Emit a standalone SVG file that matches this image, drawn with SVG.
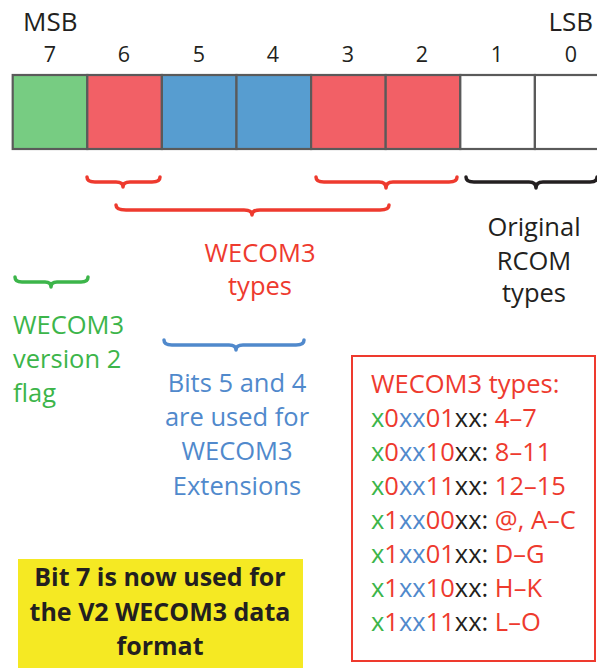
<svg xmlns="http://www.w3.org/2000/svg" width="597" height="668" viewBox="0 0 597 668">
<style>
text{font-family:"Open Sans","Noto Sans",sans-serif;font-size:25.5px}
.k{fill:#231f20}.r{fill:#ee3a2e}.g{fill:#3cb54a}.b{fill:#5089cc}
.c{text-anchor:middle}
.n{font-size:21.5px}
.h{font-size:26px}
.cell{stroke:#5a5a5a;stroke-width:2.2}
.br{fill:none;stroke-width:3.5;stroke-linecap:round;stroke-linejoin:round}
.bold{font-weight:bold;font-size:25px}
</style>
<rect width="597" height="668" fill="#fff"/>
<g id="header">
<text x="23" y="31" class="k h">MSB</text>
<text x="593" y="31" class="k h" text-anchor="end">LSB</text>
<text x="50" y="62" class="k c n">7</text>
<text x="124" y="62" class="k c n">6</text>
<text x="199" y="62" class="k c n">5</text>
<text x="273" y="62" class="k c n">4</text>
<text x="348" y="62" class="k c n">3</text>
<text x="422" y="62" class="k c n">2</text>
<text x="497" y="62" class="k c n">1</text>
<text x="571" y="62" class="k c n">0</text>
</g>
<g id="bits">
<rect class="cell" x="12.7" y="75" width="74.6" height="74" fill="#77cc82"/>
<rect class="cell" x="87.3" y="75" width="74.6" height="74" fill="#f26066"/>
<rect class="cell" x="161.9" y="75" width="74.6" height="74" fill="#579dd0"/>
<rect class="cell" x="236.5" y="75" width="74.6" height="74" fill="#579dd0"/>
<rect class="cell" x="311.1" y="75" width="74.6" height="74" fill="#f26066"/>
<rect class="cell" x="385.7" y="75" width="74.6" height="74" fill="#f26066"/>
<rect class="cell" x="460.3" y="75" width="74.6" height="74" fill="#fff"/>
<rect class="cell" x="534.9" y="75" width="74.6" height="74" fill="#fff"/>
</g>
<g id="connectors">
<path class="br" stroke="#ee3a2e" d="M87,177 Q87,182 95,182 L116,182 Q123,182 123,187 Q123,182 130,182 L152,182 Q160,182 160,177"/>
<path class="br" stroke="#ee3a2e" d="M316,177 Q316,182 324,182 L379,182 Q386,182 386,188 Q386,182 393,182 L449,182 Q457,182 457,177"/>
<path class="br" stroke="#231f20" d="M466,177 Q466,182 474,182 L529,182 Q536,182 536,188 Q536,182 543,182 L590,182 Q597,182 597,177"/>
<path class="br" stroke="#ee3a2e" d="M116,205 Q116,210 126,210 L244,210 Q252,210 252,215 Q252,210 260,210 L380,210 Q389,210 389,205"/>
<path class="br" stroke="#3cb54a" d="M15,277 Q15,282 22,282 L45,282 Q51,282 51,287 Q51,282 57,282 L81,282 Q88,282 88,277"/>
<path class="br" stroke="#5089cc" d="M164,340 Q164,345 172,345 L229,345 Q236,345 236,350 Q236,345 243,345 L296,345 Q304,345 304,340"/>
</g>
<g id="label-wecom3-types">
<text x="260" y="262" class="r c">WECOM3</text>
<text x="260" y="295" class="r c">types</text>
</g>
<g id="label-rcom">
<text x="534" y="236" class="k c">Original</text>
<text x="534" y="270" class="k c">RCOM</text>
<text x="534" y="302" class="k c">types</text>
</g>
<g id="label-flag">
<text x="13" y="334" class="g">WECOM3</text>
<text x="13" y="368" class="g">version 2</text>
<text x="13" y="402" class="g">flag</text>
</g>
<g id="label-ext">
<text x="237" y="392" class="b c">Bits 5 and 4</text>
<text x="237" y="426" class="b c">are used for</text>
<text x="237" y="460" class="b c">WECOM3</text>
<text x="237" y="495" class="b c">Extensions</text>
</g>
<g id="types-box">
<rect x="352" y="356" width="243" height="305" fill="none" stroke="#ee3a2e" stroke-width="2"/>
<text x="371" y="393" class="r">WECOM3 types:</text>
<text x="371" y="427"><tspan class="g">x</tspan><tspan class="r">0</tspan><tspan class="b">xx</tspan><tspan class="r">01</tspan><tspan class="k">xx:</tspan><tspan class="r"> 4–7</tspan></text>
<text x="371" y="461"><tspan class="g">x</tspan><tspan class="r">0</tspan><tspan class="b">xx</tspan><tspan class="r">10</tspan><tspan class="k">xx:</tspan><tspan class="r"> 8–11</tspan></text>
<text x="371" y="495"><tspan class="g">x</tspan><tspan class="r">0</tspan><tspan class="b">xx</tspan><tspan class="r">11</tspan><tspan class="k">xx:</tspan><tspan class="r"> 12–15</tspan></text>
<text x="371" y="529"><tspan class="g">x</tspan><tspan class="r">1</tspan><tspan class="b">xx</tspan><tspan class="r">00</tspan><tspan class="k">xx:</tspan><tspan class="r"> @, A–C</tspan></text>
<text x="371" y="563"><tspan class="g">x</tspan><tspan class="r">1</tspan><tspan class="b">xx</tspan><tspan class="r">01</tspan><tspan class="k">xx:</tspan><tspan class="r"> D–G</tspan></text>
<text x="371" y="597"><tspan class="g">x</tspan><tspan class="r">1</tspan><tspan class="b">xx</tspan><tspan class="r">10</tspan><tspan class="k">xx:</tspan><tspan class="r"> H–K</tspan></text>
<text x="371" y="631"><tspan class="g">x</tspan><tspan class="r">1</tspan><tspan class="b">xx</tspan><tspan class="r">11</tspan><tspan class="k">xx:</tspan><tspan class="r"> L–O</tspan></text>
</g>
<g id="note">
<rect x="18" y="559" width="285" height="109" fill="#f5e923"/>
<text x="160" y="586" class="k c bold">Bit 7 is now used for</text>
<text x="160" y="621" class="k c bold">the V2 WECOM3 data</text>
<text x="160" y="655" class="k c bold">format</text>
</g>
</svg>
